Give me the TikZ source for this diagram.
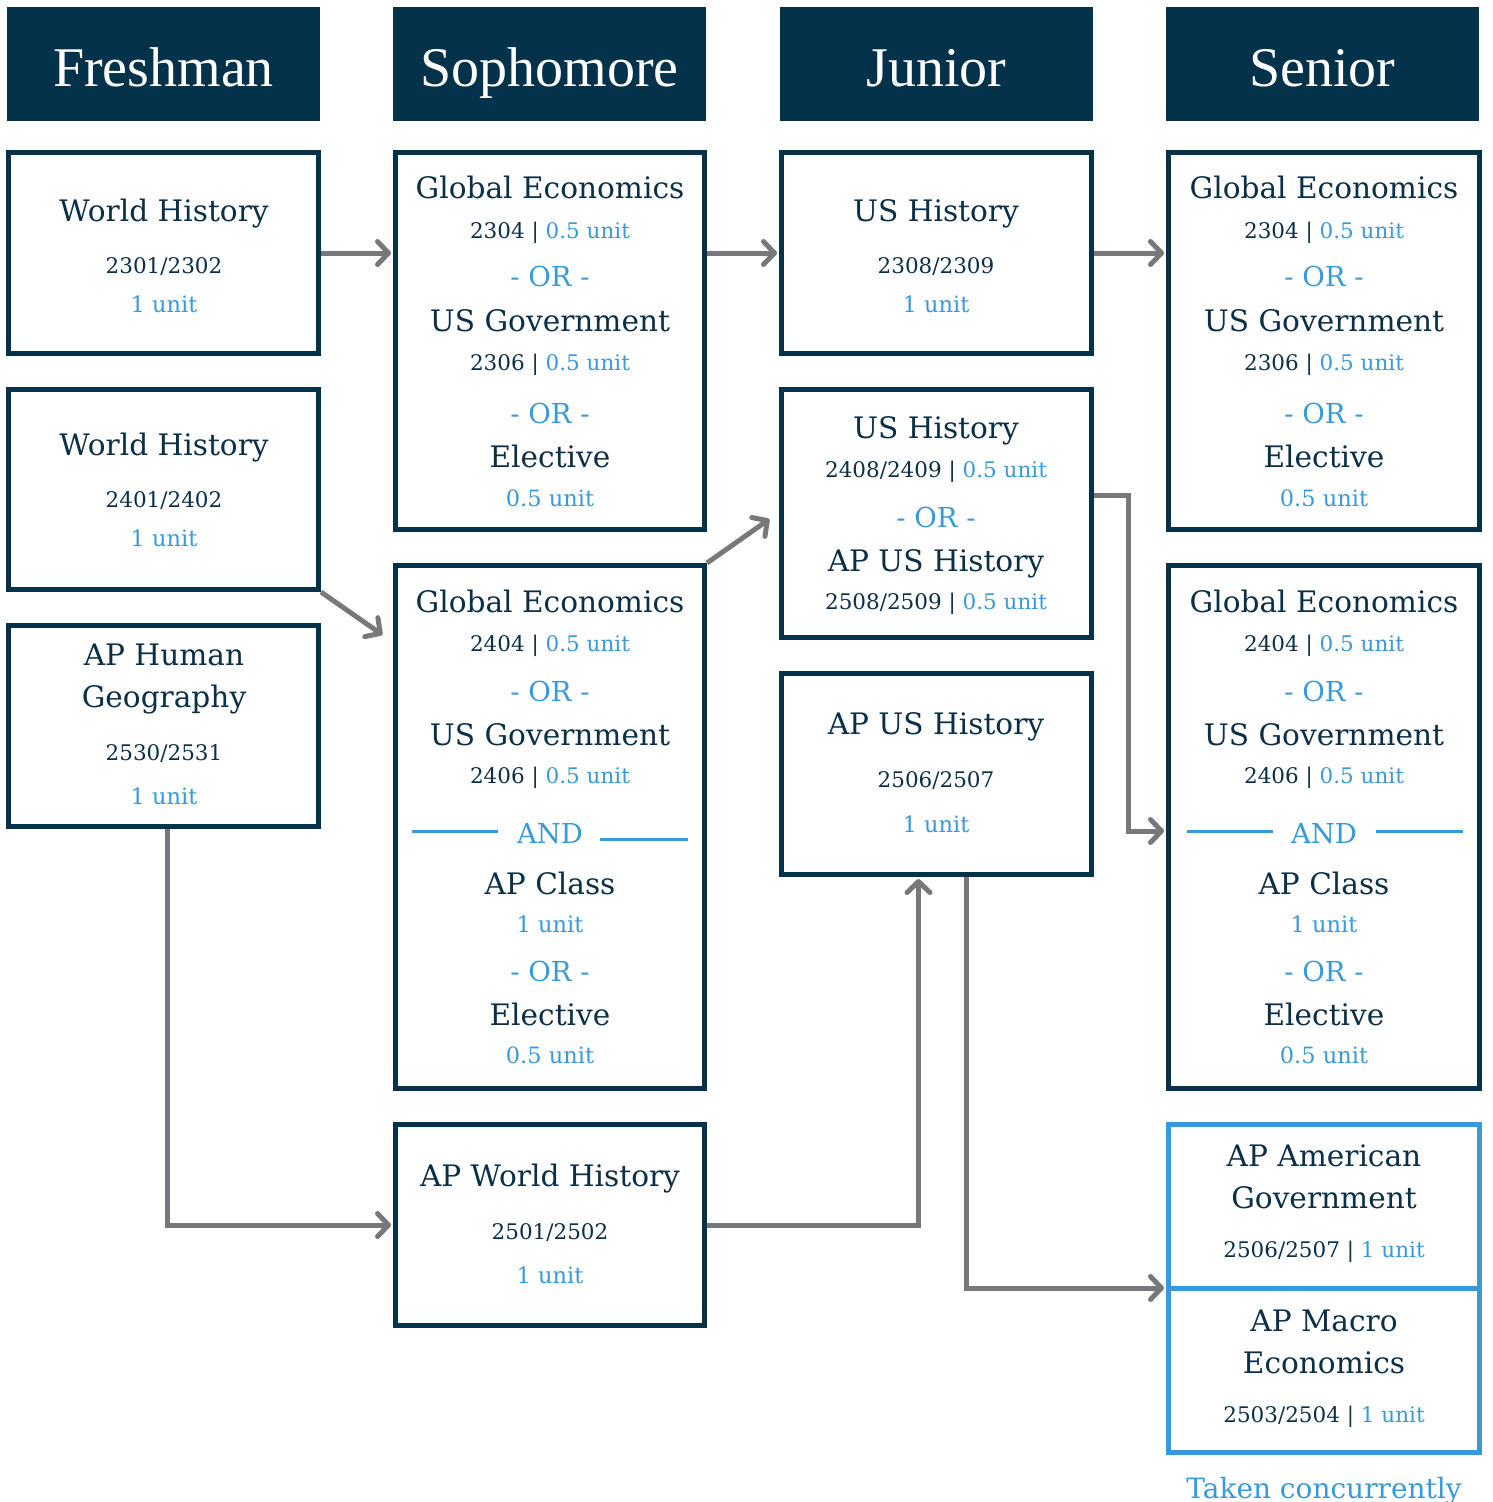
\documentclass[tikz,border=0pt]{standalone}
\usepackage{fontspec}
\setmainfont{DejaVu Serif}
\newfontfamily\headfont{Liberation Serif}
\usetikzlibrary{arrows.meta,calc}
\definecolor{navy}{HTML}{03324A}
\definecolor{tnavy}{HTML}{0A2F47}
\definecolor{cblue}{HTML}{3A9AD9}
\definecolor{agray}{HTML}{78787C}
\newcommand\cdu[2]{#1 | \textcolor{cblue}{#2}}
\tikzset{
  hdr/.style={fill=navy, minimum width=313, minimum height=114, inner sep=0pt},
  htxt/.style={anchor=base, text=white, font=\headfont\fontsize{56}{60}\selectfont},
  box/.style={draw=navy, line width=5pt, minimum width=310, fill=white},
  bbox/.style={draw=cblue, line width=5pt, minimum width=311},
  tl/.style={anchor=base, text=tnavy, inner sep=0pt, font=\fontsize{29.6}{32}\selectfont},
  cd/.style={anchor=base, text=tnavy, inner sep=0pt, font=\fontsize{21.5}{24}\selectfont},
  un/.style={anchor=base, text=cblue, inner sep=0pt, font=\fontsize{22.5}{24}\selectfont},
  orr/.style={anchor=base, text=cblue, inner sep=0pt, font=\fontsize{27.5}{30}\selectfont},
  andline/.style={draw=cblue, line width=3pt},
  arr/.style={draw=agray, line width=5pt, -{Straight Barb[length=11pt,width=23pt,round]}, shorten >=2pt}
}
\begin{document}
\begin{tikzpicture}[x=1pt,y=-1pt]
\useasboundingbox (0,0) rectangle (1492,1502);
% headers
\node[hdr] (h1) at (163.5,64) {};
\node[hdr] (h2) at (549.5,64) {};
\node[hdr] (h3) at (936.5,64) {};
\node[hdr] (h4) at (1322.5,64) {};
\node[htxt] (h1t) at (163.5,86) {Freshman};
\node[htxt] (h2t) at (549.5,86) {Sophomore};
\node[htxt] (h3t) at (936.5,86) {Junior};
\node[htxt] (h4t) at (1322.5,86) {Senior};
% column 1
\node[box, minimum height=201] (wh1) at (163.5,253) {};
\node[box, minimum height=200] (wh2) at (163.5,489.5) {};
\node[box, minimum height=201] (aphg) at (163.5,726) {};
\node[tl] (wh1a) at (164,221) {World History};
\node[cd] (wh1b) at (164,273) {2301/2302};
\node[un] (wh1c) at (164,312) {1 unit};
\node[tl] (wh2a) at (164,455) {World History};
\node[cd] (wh2b) at (164,507) {2401/2402};
\node[un] (wh2c) at (164,546) {1 unit};
\node[tl] (aphga) at (164,665) {AP Human};
\node[tl] (aphgb) at (164,707) {Geography};
\node[cd] (aphgc) at (164,760) {2530/2531};
\node[un] (aphgd) at (164,804) {1 unit};
% column 2
\node[box, minimum width=309, minimum height=377] (ge1) at (550,341) {};
\node[box, minimum width=309, minimum height=523] (ge2) at (550,827) {};
\node[box, minimum width=309, minimum height=201] (apwh) at (550,1225) {};
\node[tl] (ge1a) at (550,198) {Global Economics};
\node[cd] (ge1b) at (550,238) {\cdu{2304}{0.5 unit}};
\node[orr] (ge1c) at (550,286) {- OR -};
\node[tl] (ge1d) at (550,331) {US Government};
\node[cd] (ge1e) at (550,370) {\cdu{2306}{0.5 unit}};
\node[orr] (ge1f) at (550,423) {- OR -};
\node[tl] (ge1g) at (550,467) {Elective};
\node[un] (ge1h) at (550,506) {0.5 unit};
\node[tl] (ge2a) at (550,612) {Global Economics};
\node[cd] (ge2b) at (550,651) {\cdu{2404}{0.5 unit}};
\node[orr] (ge2c) at (550,701) {- OR -};
\node[tl] (ge2d) at (550,745) {US Government};
\node[cd] (ge2e) at (550,783) {\cdu{2406}{0.5 unit}};
\node[orr] (ge2f) at (550,843) {AND};
\draw[andline] (412,831) -- (498,831);
\draw[andline] (600,839) -- (688,839);
\node[tl] (ge2g) at (550,894) {AP Class};
\node[un] (ge2h) at (550,932) {1 unit};
\node[orr] (ge2i) at (550,981) {- OR -};
\node[tl] (ge2j) at (550,1025) {Elective};
\node[un] (ge2k) at (550,1063) {0.5 unit};
\node[tl] (apwha) at (550,1186) {AP World History};
\node[cd] (apwhb) at (550,1239) {2501/2502};
\node[un] (apwhc) at (550,1283) {1 unit};
% column 3
\node[box, minimum height=201] (ush1) at (936.5,253) {};
\node[box, minimum height=248] (ush2) at (936.5,513.5) {};
\node[box, minimum height=201] (apush) at (936.5,774) {};
\node[tl] (ush1a) at (936,221) {US History};
\node[cd] (ush1b) at (936,273) {2308/2309};
\node[un] (ush1c) at (936,312) {1 unit};
\node[tl] (ush2a) at (936,438) {US History};
\node[cd] (ush2b) at (936,477) {\cdu{2408/2409}{0.5 unit}};
\node[orr] (ush2c) at (936,527) {- OR -};
\node[tl] (ush2d) at (936,571) {AP US History};
\node[cd] (ush2e) at (936,609) {\cdu{2508/2509}{0.5 unit}};
\node[tl] (apusha) at (936,734) {AP US History};
\node[cd] (apushb) at (936,787) {2506/2507};
\node[un] (apushc) at (936,832) {1 unit};
% column 4
\node[box, minimum width=311, minimum height=377] (ge3) at (1324,341) {};
\node[box, minimum width=311, minimum height=523] (ge4) at (1324,827) {};
\node[tl] (ge3a) at (1324,198) {Global Economics};
\node[cd] (ge3b) at (1324,238) {\cdu{2304}{0.5 unit}};
\node[orr] (ge3c) at (1324,286) {- OR -};
\node[tl] (ge3d) at (1324,331) {US Government};
\node[cd] (ge3e) at (1324,370) {\cdu{2306}{0.5 unit}};
\node[orr] (ge3f) at (1324,423) {- OR -};
\node[tl] (ge3g) at (1324,467) {Elective};
\node[un] (ge3h) at (1324,506) {0.5 unit};
\node[tl] (ge4a) at (1324,612) {Global Economics};
\node[cd] (ge4b) at (1324,651) {\cdu{2404}{0.5 unit}};
\node[orr] (ge4c) at (1324,701) {- OR -};
\node[tl] (ge4d) at (1324,745) {US Government};
\node[cd] (ge4e) at (1324,783) {\cdu{2406}{0.5 unit}};
\node[orr] (ge4f) at (1324,843) {AND};
\draw[andline] (1187,831) -- (1273,831);
\draw[andline] (1376,831) -- (1463,831);
\node[tl] (ge4g) at (1324,894) {AP Class};
\node[un] (ge4h) at (1324,932) {1 unit};
\node[orr] (ge4i) at (1324,981) {- OR -};
\node[tl] (ge4j) at (1324,1025) {Elective};
\node[un] (ge4k) at (1324,1063) {0.5 unit};
\node[bbox, minimum height=163.5] (apag) at (1324,1206.25) {};
\node[bbox, minimum height=164.5] (apme) at (1324,1370.25) {};
\node[tl] (apaga) at (1324,1166) {AP American};
\node[tl] (apagb) at (1324,1208) {Government};
\node[cd] (apagc) at (1324,1257) {\cdu{2506/2507}{1 unit}};
\node[tl] (apmea) at (1324,1331) {AP Macro};
\node[tl] (apmeb) at (1324,1373) {Economics};
\node[cd] (apmec) at (1324,1422) {\cdu{2503/2504}{1 unit}};
\node[anchor=base, text=cblue, inner sep=0pt, font=\fontsize{28}{30}\selectfont] (tc) at (1324,1498) {Taken concurrently};
% connectors
\coordinate (c1) at (384,636);
\coordinate (c2) at (771,518);
\coordinate (g4in) at ($(ge4.west)+(0,4)$);
\coordinate (apin) at ($(apme.north west)+(0,2.5)$);
\draw[arr] (wh1.east) -- (wh1.east -| ge1.west);
\draw[arr] (ge1.east |- ush1.west) -- (ush1.west);
\draw[arr] (ush1.east) -- (ush1.east -| ge3.west);
\draw[arr] (wh2.south east) -- (c1);
\draw[arr] (ge2.north east) -- (c2);
\draw[arr] ($(ush2.east)+(0,-18)$) -- ++(34,0) |- (g4in);
\draw[arr] ($(aphg.south)+(3.5,0)$) |- (apwh.west);
\draw[arr] (apwh.east) -| ($(apush.south)+(-18,0)$);
\draw[arr] ($(apush.south)+(30,0)$) |- (apin);
\end{tikzpicture}
\end{document}
